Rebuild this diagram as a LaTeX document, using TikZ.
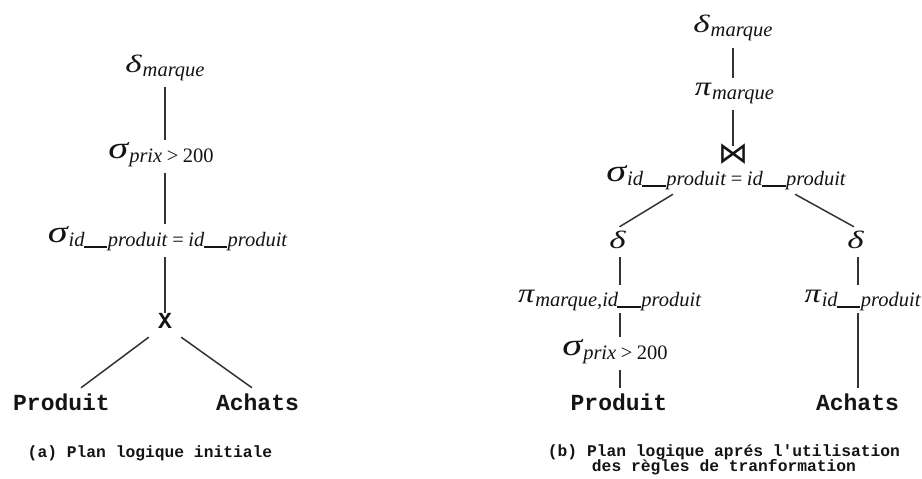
\documentclass[tikz,border=0pt]{standalone}
\usepackage{graphicx}
\usepackage{fontspec}
\setmainfont{Liberation Serif}
\setmonofont{Liberation Mono}
\newfontfamily\symfont{DejaVu Sans}

% Greek operator letters, widened to the squat look of an equation font
\newcommand{\gdelta}{\scalebox{1.4}[1]{\fontsize{25}{25}\selectfont\itshape δ}}
\newcommand{\gsigma}{\scalebox{1.3}[1]{\fontsize{31}{31}\selectfont\itshape σ}}
\newcommand{\gpi}{\scalebox{1.2}[1]{\fontsize{27}{27}\selectfont\itshape π}}
% operator with an italic subscript
\newcommand{\opn}[2]{#1\hspace{1pt}%
  \raisebox{-4pt}{\fontsize{20.5}{20.5}\selectfont\itshape #2}}
\newcommand{\rel}[1]{\hspace{0.22em}\textup{#1}\hspace{0.22em}}
\newcommand{\und}{\hspace{-0.04em}\rule[-1.5pt]{1.15em}{0.07em}\hspace{0.02em}}
\newcommand{\capfont}{\ttfamily\bfseries\fontsize{16.3}{15}\selectfont
  \setlength{\lineskiplimit}{-20pt}\relax}

\begin{document}
\begin{tikzpicture}[x=1pt,y=-1pt,
  op/.style={inner sep=0pt,anchor=base,text height=18pt,text depth=15pt,text=black!92},
  rel/.style={inner sep=0pt,anchor=base,text height=22pt,text depth=6pt,
    font=\ttfamily\bfseries\fontsize{23}{23}\selectfont,text=black!92},
  caption/.style={inner sep=0pt,anchor=base,align=center,font=\capfont,text=black!92},
  edge/.style={draw=black!80,line width=1.5pt}]

\useasboundingbox (0,0) rectangle (922,479);

% ---------- (a) initial logical plan ----------
\node[op] (a1) at (165,72) {\opn{\gdelta}{marque}};
\node[op] (a2) at (161,158) {\opn{\gsigma}{prix\rel{>}\textup{200}}};
\node[op] (a3) at (167.5,242) {\opn{\gsigma}{id\und produit\rel{=}id\und produit}};
\node[inner sep=0pt,anchor=base,minimum width=32pt,text height=15pt,text depth=9pt,
  font=\ttfamily\bfseries\fontsize{23}{23}\selectfont,text=black!92] (ax) at (165,328) {X};
\node[rel] (ap) at (61.5,410) {Produit};
\node[rel] (aa) at (257.5,410) {Achats};
\node[caption] (capa) at (150,457) {(a) Plan logique initiale};

\coordinate (colA) at (165,0);
\draw[edge] (a1.south -| colA) -- (a2.north -| colA);
\draw[edge] (a2.south -| colA) -- (a3.north -| colA);
\draw[edge] (a3.south -| colA) -- (ax.north -| colA);
\draw[edge] (ax.south west) -- ([xshift=19.5pt]ap.north);
\draw[edge] (ax.south east) -- ([xshift=-5.5pt]aa.north);

% ---------- (b) plan after the transformation rules ----------
\node[op,text depth=16pt] (b1) at (733,32) {\opn{\gdelta}{marque}};
\node[op,text height=17pt] (b2) at (734.5,95) {\opn{\gpi}{marque}};
\node[inner sep=0pt,anchor=base,text height=21pt,text depth=0pt,
  font=\symfont\fontsize{30}{30}\selectfont,text=black!92] (bj) at (733.5,163.5) {⋈};
\node[op,text depth=13pt] (b3) at (726,181) {\opn{\gsigma}{id\und produit\rel{=}id\und produit}};

\node[op,text height=21pt,text depth=9pt] (bl1) at (617.5,248) {\gdelta};
\node[op,text height=17pt,text depth=11pt] (bl2) at (609.5,302) {\opn{\gpi}{marque,id\und produit}};
\node[op] (bl3) at (615,355) {\opn{\gsigma}{prix\rel{>}\textup{200}}};
\node[rel] (bp) at (619,410) {Produit};

\node[op,text height=21pt,text depth=9pt] (br1) at (855.5,248) {\gdelta};
\node[op,text height=17pt,text depth=11pt] (br2) at (862.5,302) {\opn{\gpi}{id\und produit}};
\node[rel] (ba) at (857.5,410) {Achats};

\node[caption] (capb) at (724,471) {(b) Plan logique aprés l'utilisation\\des règles de tranformation};

\coordinate (colB) at (733,0);
\coordinate (colL) at (620,0);
\coordinate (colR) at (858,0);
\draw[edge] (b1.south -| colB) -- (b2.north -| colB);
\draw[edge] (b2.south -| colB) -- ([yshift=-4pt]bj.north -| colB);
\draw[edge] ([xshift=-53pt]b3.south) -- ([xshift=2pt]bl1.north);
\draw[edge] ([xshift=69pt]b3.south) -- ([xshift=-1.5pt]br1.north);
\draw[edge] (bl1.south -| colL) -- (bl2.north -| colL);
\draw[edge] (bl2.south -| colL) -- (bl3.north -| colL);
\draw[edge] (bl3.south -| colL) -- (bp.north -| colL);
\draw[edge] (br1.south -| colR) -- (br2.north -| colR);
\draw[edge] (br2.south -| colR) -- (ba.north -| colR);
\end{tikzpicture}
\end{document}
